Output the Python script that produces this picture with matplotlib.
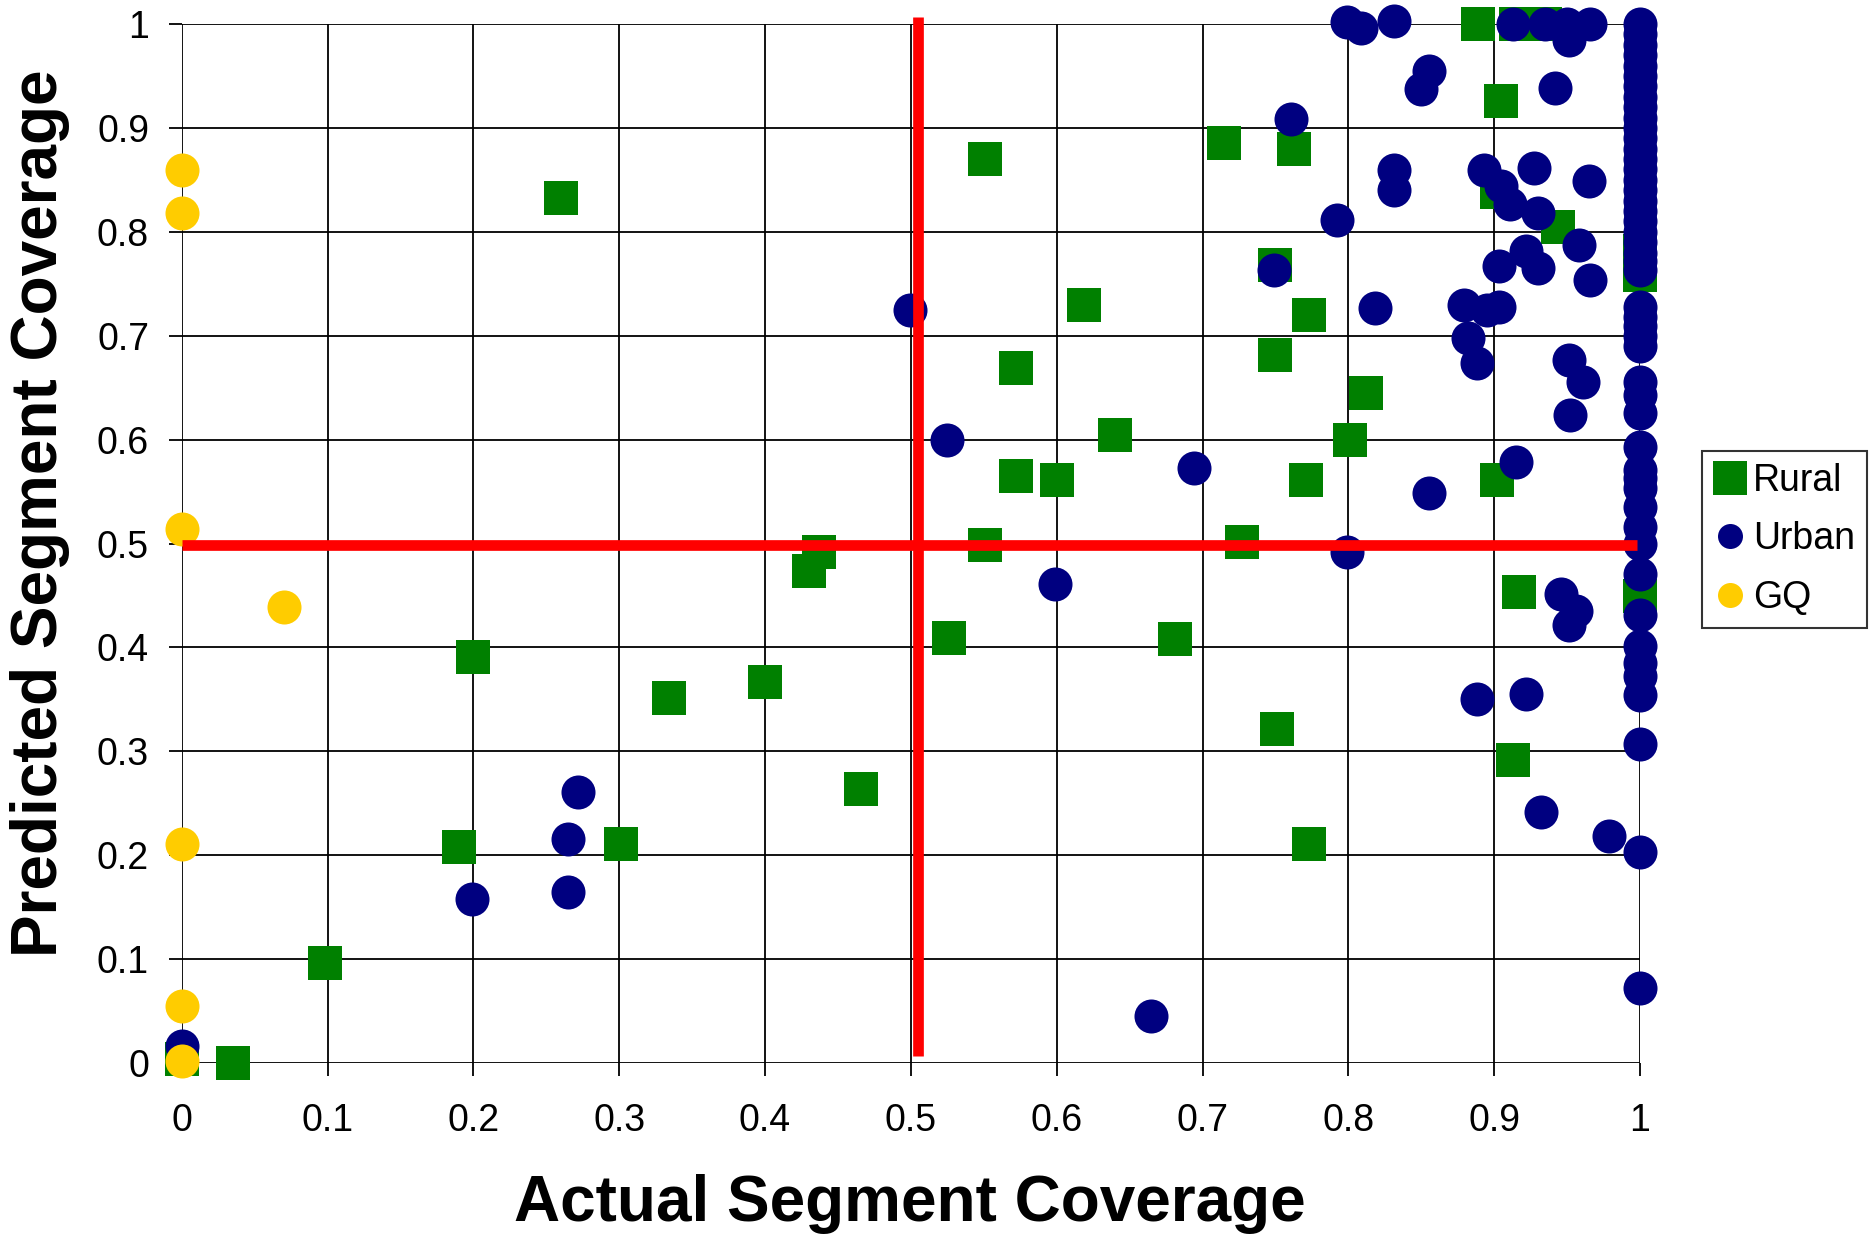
import matplotlib
matplotlib.use("Agg")
import matplotlib.pyplot as plt
from matplotlib.lines import Line2D

plt.rcParams['font.family'] = ['Liberation Sans', 'DejaVu Sans']

# ---------------- data ----------------
rural_x = [0.0, 0.035, 0.098, 0.190, 0.200, 0.260, 0.301, 0.334, 0.400, 0.430,
           0.437, 0.466, 0.526, 0.551, 0.551, 0.572, 0.572, 0.600, 0.619, 0.640,
           0.681, 0.715, 0.727, 0.750, 0.750, 0.751, 0.763, 0.771, 0.773, 0.773,
           0.801, 0.812, 0.889, 0.902, 0.902, 0.905, 0.913, 0.915, 0.935, 0.917,
           0.944, 1.0, 1.0, 1.0]
rural_y = [0.004, 0.0, 0.096, 0.208, 0.391, 0.833, 0.211, 0.351, 0.367, 0.4735,
           0.492, 0.264, 0.409, 0.4985, 0.870, 0.565, 0.669, 0.561, 0.730, 0.604,
           0.408, 0.885, 0.501, 0.768, 0.681, 0.321, 0.880, 0.561, 0.720, 0.211,
           0.600, 0.645, 1.0, 0.838, 0.561, 0.926, 0.292, 1.0, 1.0, 0.453,
           0.805, 0.782, 0.758, 0.449]

urban_x = [0.0, 0.199, 0.265, 0.265, 0.272, 0.4995, 0.525, 0.599, 0.665, 0.694,
           0.749, 0.761, 0.792, 0.799, 0.799, 0.809, 0.818, 0.831, 0.831, 0.831,
           0.850, 0.855, 0.855, 0.879, 0.882, 0.888, 0.888, 0.893, 0.895, 0.903,
           0.903, 0.905, 0.911, 0.913, 0.915, 0.922, 0.922, 0.927, 0.930, 0.930,
           0.932, 0.935, 0.942, 0.946, 0.950, 0.951, 0.951, 0.951, 0.952, 0.956,
           0.958, 0.961, 0.965, 0.966, 0.966, 0.979]
urban_y = [0.016, 0.158, 0.2156, 0.165, 0.261, 0.725, 0.600, 0.461, 0.0456, 0.573,
           0.763, 0.909, 0.811, 0.4915, 1.002, 0.996, 0.727, 1.003, 0.859, 0.840,
           0.937, 0.955, 0.549, 0.730, 0.698, 0.674, 0.350, 0.859, 0.725, 0.728,
           0.767, 0.844, 0.827, 1.0, 0.578, 0.782, 0.355, 0.861, 0.818, 0.765,
           0.242, 1.0, 0.938, 0.451, 1.0, 0.985, 0.677, 0.4216, 0.624, 0.435,
           0.787, 0.655, 0.849, 1.0, 0.754, 0.218]

# urban segments with full actual coverage (x = 1)
urban_full_y = [1.0, 0.99, 0.98, 0.97, 0.96, 0.95, 0.94, 0.93, 0.92, 0.91,
                0.90, 0.89, 0.88, 0.87, 0.86, 0.85, 0.84, 0.83, 0.82, 0.81,
                0.80, 0.79, 0.78, 0.772, 0.763, 0.728, 0.718, 0.709, 0.70, 0.69,
                0.655, 0.643, 0.626, 0.593, 0.571, 0.563, 0.553, 0.535, 0.516, 0.500,
                0.471, 0.431, 0.401, 0.385, 0.372, 0.354, 0.307, 0.203, 0.072]
urban_full_x = [1.0] * len(urban_full_y)

gq_x = [0.0, 0.0, 0.0, 0.070, 0.0, 0.0, 0.0]
gq_y = [0.859, 0.818, 0.514, 0.439, 0.211, 0.055, 0.002]

# red reference lines
vline_x = [0.505, 0.505]
vline_y = [0.007, 1.007]
hline_x = [0.0, 0.998]
hline_y = [0.4985, 0.4985]

ticks = [0, 0.1, 0.2, 0.3, 0.4, 0.5, 0.6, 0.7, 0.8, 0.9, 1]
tick_labels = ['0', '0.1', '0.2', '0.3', '0.4', '0.5', '0.6', '0.7', '0.8', '0.9', '1']

series_names = ['Rural', 'Urban', 'GQ']

GREEN = '#008000'
NAVY = '#000080'
GOLD = '#FFCC00'

# ---------------- figure ----------------
W, H = 1869, 1240
fig = plt.figure(figsize=(W / 100, H / 100), dpi=100)
ax = fig.add_axes([181.7 / W, 1 - 1063 / H, 1458.3 / W, 1039 / H])
ax.set_xlim(0, 1)
ax.set_ylim(0, 1)
for s in ax.spines.values():
    s.set_visible(False)

ax.set_xticks(ticks)
ax.set_yticks(ticks)
ax.set_xticklabels(tick_labels)
ax.set_yticklabels(tick_labels)
ax.grid(True, color='black', linewidth=1.3)
ax.set_axisbelow(True)
ax.tick_params(axis='both', direction='out', length=9.5, width=1.3,
               color='black', labelsize=27)
ax.tick_params(axis='x', pad=19)
ax.tick_params(axis='y', pad=14)

ms_sq = 23.8
ms_ci = 24.5
ax.plot(rural_x, rural_y, 's', color=GREEN, markersize=ms_sq,
        markeredgewidth=0, clip_on=False, zorder=3)
ax.plot(urban_x, urban_y, 'o', color=NAVY, markersize=ms_ci,
        markeredgewidth=0, clip_on=False, zorder=4)
ax.plot(urban_full_x, urban_full_y, 'o', color=NAVY, markersize=ms_ci,
        markeredgewidth=0, clip_on=False, zorder=4)
ax.plot(gq_x, gq_y, 'o', color=GOLD, markersize=ms_ci,
        markeredgewidth=0, clip_on=False, zorder=5)

ax.plot(vline_x, vline_y, color='#FF0000', linewidth=7.7, clip_on=False,
        zorder=6, solid_capstyle='butt')
ax.plot(hline_x, hline_y, color='#FF0000', linewidth=7.7, clip_on=False,
        zorder=6, solid_capstyle='butt')

fig.text(910 / W, 1 - 1204 / H, 'Actual Segment Coverage', ha='center',
         va='center', fontsize=46, fontweight='bold')
fig.text(40 / W, 1 - 513 / H, 'Predicted Segment Coverage', ha='center',
         va='center', fontsize=46, fontweight='bold', rotation=90)

handles = [
    Line2D([], [], marker='s', color=GREEN, linestyle='none', markersize=23.8,
           markeredgewidth=0),
    Line2D([], [], marker='o', color=NAVY, linestyle='none', markersize=18,
           markeredgewidth=0),
    Line2D([], [], marker='o', color=GOLD, linestyle='none', markersize=18,
           markeredgewidth=0),
]
leg = fig.legend(handles, series_names, loc='upper left',
                 bbox_to_anchor=(1701.7 / W, 1 - 450.7 / H), borderaxespad=0,
                 fontsize=27, frameon=True, fancybox=False, edgecolor='black',
                 handlelength=0.85, handletextpad=0.2, labelspacing=0.6,
                 borderpad=0.32)
leg.get_frame().set_linewidth(1.5)

fig.savefig('out.png', dpi=100)
